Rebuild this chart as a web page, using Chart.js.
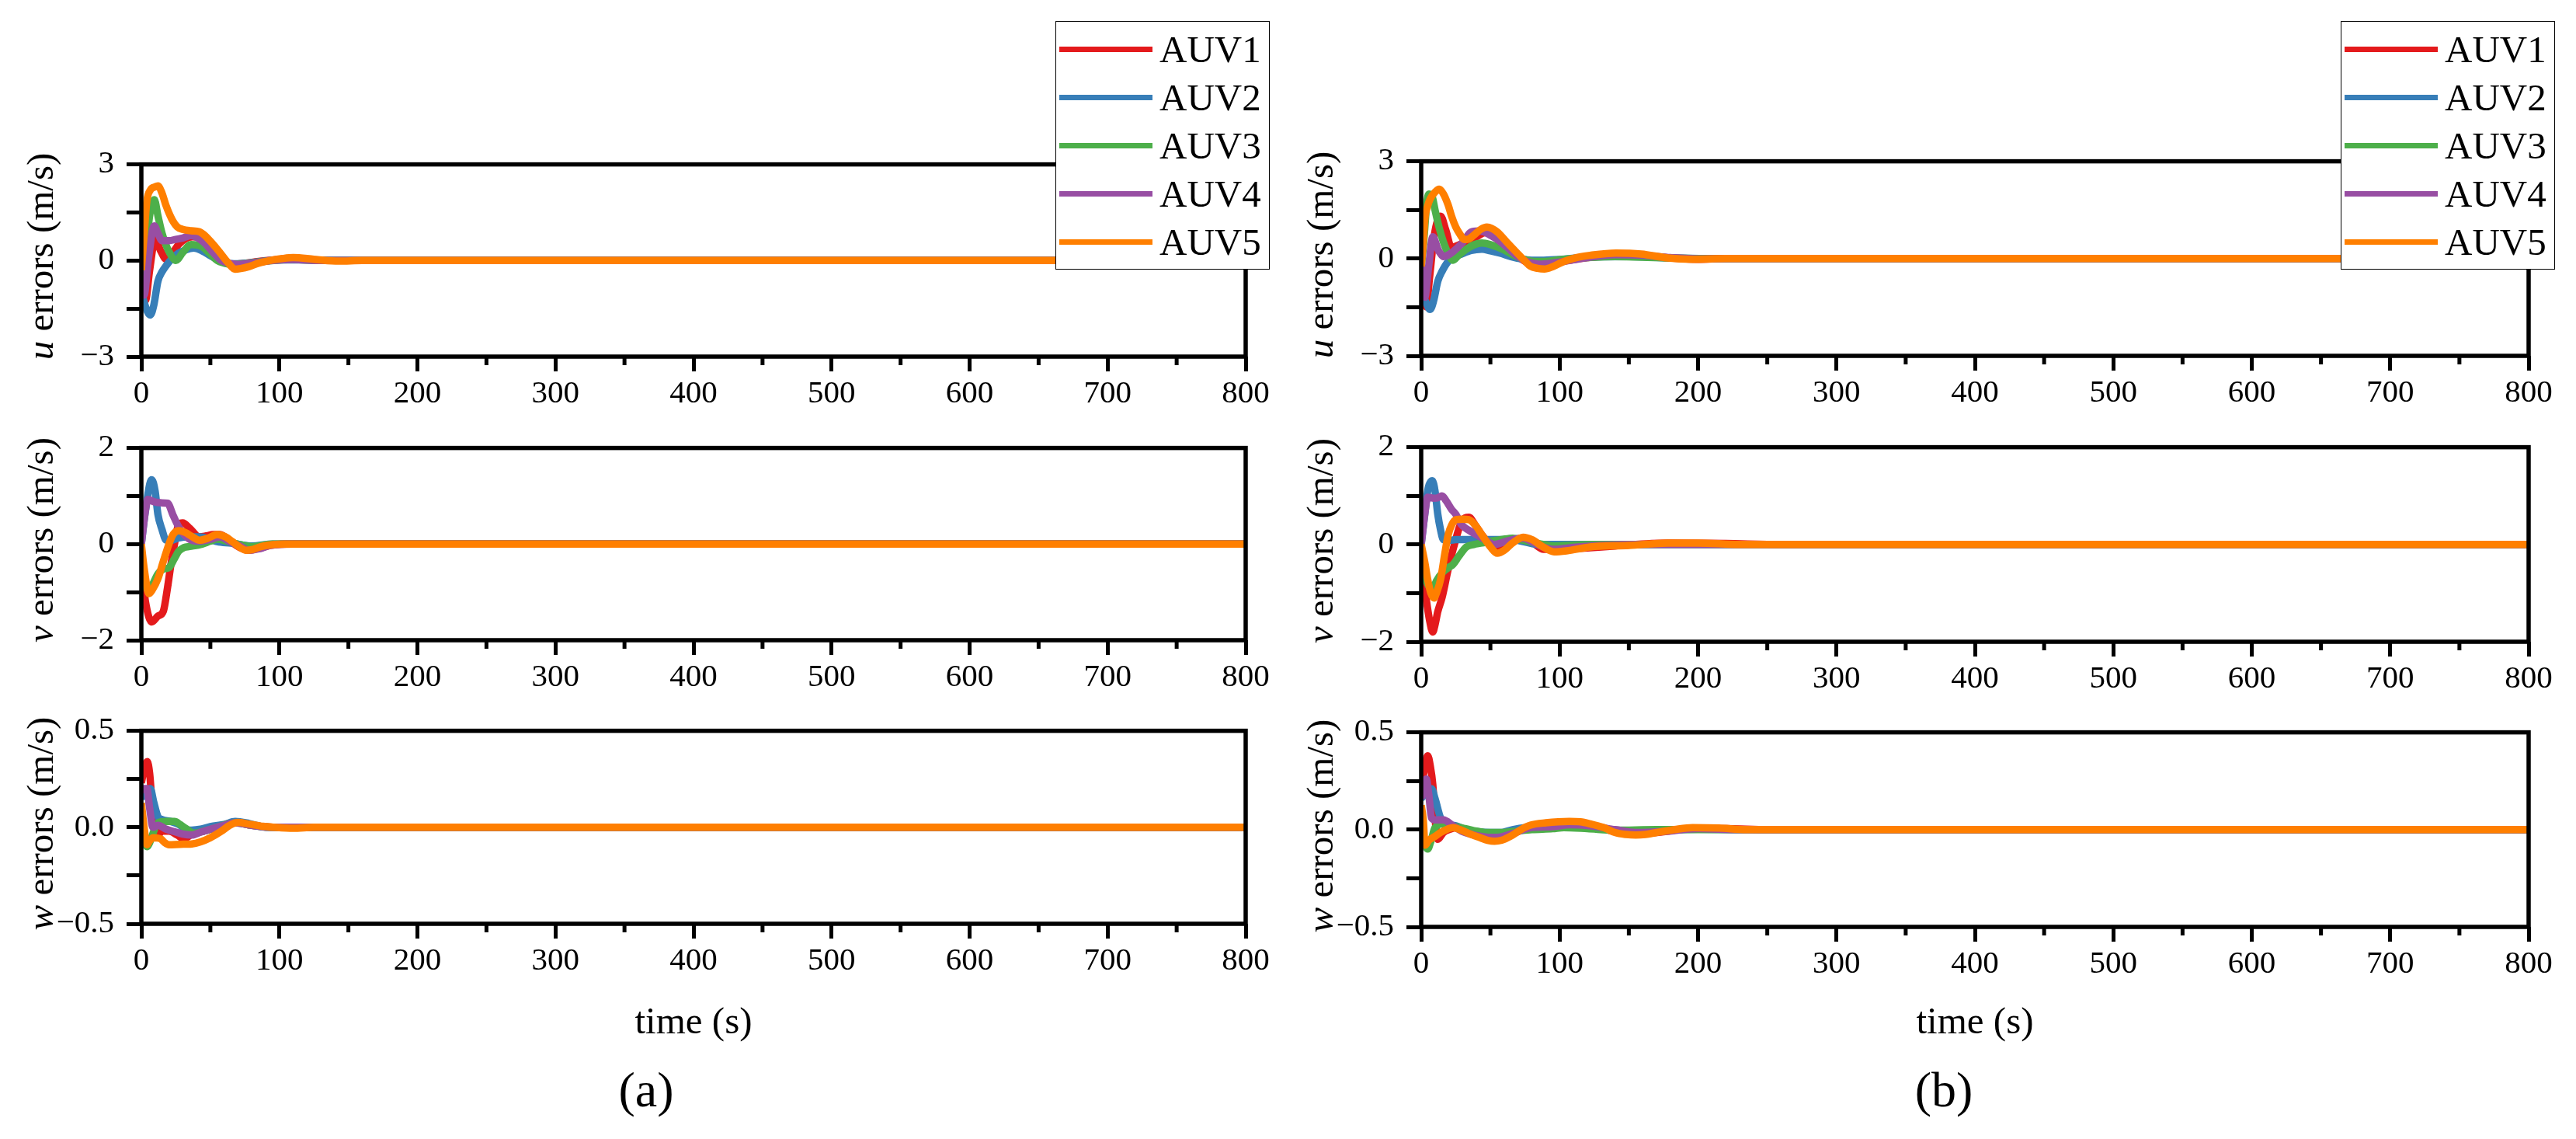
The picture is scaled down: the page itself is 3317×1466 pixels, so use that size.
<!DOCTYPE html>
<html lang="en">
<head>
<meta charset="UTF-8">
<title>AUV velocity errors</title>
<script src="https://cdn.jsdelivr.net/npm/chart.js"></script>
<style>
    body { margin: 0; background: #fff; }
    #fig {
        position: relative;
        width: 3317px;
        height: 1466px;
        background: #fff;
        overflow: hidden;
        font-family: 'Liberation Serif', 'Times New Roman', serif;
        color: #000;
    }
    #fig canvas { position: absolute; }
    .ytitle {
        position: absolute;
        width: 420px;
        height: 60px;
        line-height: 60px;
        text-align: center;
        font-size: 49px;
        white-space: nowrap;
        transform: rotate(-90deg);
    }
    .xtitle {
        position: absolute;
        width: 400px;
        text-align: center;
        font-size: 49px;
        line-height: 49px;
        white-space: nowrap;
    }
    .panel {
        position: absolute;
        width: 200px;
        text-align: center;
        font-size: 64px;
        line-height: 64px;
    }
    .legend {
        position: absolute;
        top: 27px;
        width: 276px;
        height: 320px;
        box-sizing: border-box;
        border: 1.5px solid #000;
        background: #fff;
        z-index: 5;
    }
    .legend .row { position: absolute; left: 0; width: 100%; height: 62px; }
    .legend .swatch { position: absolute; left: 4px; top: 27px; width: 120px; height: 7px; }
    .legend .name { position: absolute; left: 133px; top: 0; font-size: 49px; line-height: 62px; }
</style>
</head>
<body>
<div id="fig"></div>

<script>
    const names = ['AUV1', 'AUV2', 'AUV3', 'AUV4', 'AUV5'];
    const colors = ['#e41a1c', '#377eb8', '#4daf4a', '#984ea3', '#ff7f00'];
    const xTicks = [0, 100, 200, 300, 400, 500, 600, 700, 800];

    // (a) u errors, [time, value]
    const uA1 = [[0,-0.5],[3,-1.24],[6,-0.3],[10,0.66],[14,0.3],[18,0.04],[22,0.2],[27,0.5],[32,0.68],[37,0.74],[44,0.7],[50,0.45],[55,0.15],[60,-0.02],[65,-0.12],[72,-0.1],[85,-0.03],[100,0.03],[115,0.04],[135,0],[800,0]];
    const uA2 = [[0,-0.9],[2,-1.3],[6.5,-1.7],[9,-1.4],[12,-0.65],[15,-0.35],[18,-0.16],[22,0.05],[27,0.23],[32,0.33],[38,0.39],[44,0.3],[50,0.15],[55,0.03],[61,-0.08],[70,-0.1],[85,-0.04],[100,0.02],[120,0.02],[150,0],[800,0]];
    const uA3 = [[0,-0.6],[3,0.2],[6,1.4],[9.4,1.9],[12,1.4],[15,0.85],[18,0.47],[21,0.2],[25,0],[30,0.25],[36,0.5],[44,0.43],[50,0.2],[55,0],[60,-0.08],[65,-0.12],[75,-0.1],[90,-0.02],[110,0.03],[130,0],[800,0]];
    const uA4 = [[0,-0.62],[2,-1.08],[5,0],[9.4,1.08],[12,0.85],[15,0.62],[20,0.62],[25,0.66],[30,0.7],[36,0.78],[41,0.7],[46,0.54],[52,0.25],[58,0],[65,-0.1],[70,-0.12],[80,-0.08],[95,0],[110,0.03],[130,0],[800,0]];
    const uA5 = [[0,-0.3],[2,0.8],[4,1.86],[6.5,2.2],[10,2.3],[12,2.33],[15,2.1],[18,1.7],[22,1.3],[26,1.05],[30,0.97],[36,0.93],[42,0.9],[46,0.78],[50,0.6],[56,0.3],[63,-0.08],[68,-0.27],[72,-0.25],[78,-0.19],[85,-0.08],[93,0],[102,0.06],[110,0.09],[125,0.04],[143,-0.02],[160,0],[800,0]];

    // (a) v errors
    const vA1 = [[0,-0.5],[3,-1.2],[7.5,-1.62],[12,-1.5],[16,-1.39],[19,-0.9],[21.5,-0.41],[24,0],[27,0.41],[30,0.44],[35,0.33],[42,0.15],[47,0.17],[52,0.2],[57,0.2],[65,0.05],[72,-0.08],[78,-0.13],[85,-0.09],[95,-0.02],[110,0],[800,0]];
    const vA2 = [[0,0],[3,0.7],[7.5,1.34],[10,1.1],[12,0.62],[15,0.3],[18,0.08],[22,0.08],[27,0.13],[35,0.15],[42,0.15],[50,0.1],[55,0.05],[65,0.02],[80,-0.04],[95,0],[800,0]];
    const vA3 = [[0,-0.5],[3,-0.85],[5.6,-0.98],[8,-0.85],[12,-0.62],[16,-0.52],[20,-0.49],[24,-0.3],[27,-0.15],[31,-0.07],[35,-0.05],[44,0],[50,0.06],[55,0.1],[62,0.06],[70,0],[80,-0.05],[95,0],[800,0]];
    const vA4 = [[0,0],[2.5,0.6],[4.7,0.93],[9.4,0.88],[14,0.86],[19,0.85],[23,0.6],[27,0.36],[31,0.2],[36.5,0.08],[42,0.06],[50,0.1],[57,0.15],[64,0.05],[72,-0.05],[78,-0.13],[85,-0.1],[93,-0.03],[105,0],[800,0]];
    const vA5 = [[0,0],[2,-0.5],[5.6,-1.03],[8,-0.95],[12,-0.72],[16,-0.35],[20,0],[23,0.2],[27,0.28],[32,0.24],[37,0.15],[42,0.08],[48,0.12],[55,0.2],[61,0.15],[66,0.05],[71,-0.06],[76,-0.13],[81,-0.11],[87,-0.05],[95,-0.01],[104,0],[800,0]];

    // (a) w errors
    const wA1 = [[0,0.23],[2,0.3],[4.3,0.34],[6,0.28],[7.5,0.15],[9,0.04],[12,-0.04],[15,-0.02],[20,-0.02],[26,-0.04],[31,-0.06],[37.5,-0.03],[45,-0.02],[55,0],[68,0.025],[80,0.01],[95,0],[800,0]];
    const wA2 = [[0,0.15],[3,0.18],[6.5,0.2],[9,0.13],[12,0.055],[15,0.04],[21.5,0.03],[27,0.015],[32,-0.01],[36.5,-0.015],[43,-0.01],[50,0.004],[60,0.015],[68,0.03],[78,0.02],[90,0],[800,0]];
    const wA3 = [[0,0],[2,-0.06],[4,-0.1],[6,-0.08],[8,-0.04],[12,0.023],[18,0.03],[24,0.03],[28,0.015],[32,-0.005],[38,-0.03],[45,-0.02],[55,0],[68,0.023],[80,0.01],[95,0],[800,0]];
    const wA4 = [[0,0.19],[2,0.2],[4,0.2],[6,0.1],[8.4,0],[12,0.01],[18,-0.01],[25,-0.025],[30,-0.035],[36.5,-0.04],[43,-0.025],[50,-0.01],[60,0.01],[68,0.023],[80,0.01],[95,0],[800,0]];
    const wA5 = [[0,0.126],[2,0],[4,-0.09],[6,-0.07],[8.4,-0.054],[11,-0.055],[14,-0.06],[17,-0.08],[20,-0.09],[28,-0.088],[36.5,-0.086],[43,-0.075],[50,-0.054],[58,-0.02],[64,0.01],[70,0.025],[78,0.017],[88,0.005],[96,0],[110,-0.005],[125,0],[800,0]];

    // (b) u errors
    const uB1 = [[0,-0.5],[2,-1.2],[3.7,-1.49],[6,-0.6],[9.3,0.67],[12,1.2],[14,1.31],[17.7,0.89],[22,0.33],[26,0.4],[32.6,0.52],[40,0.67],[46,0.8],[50,0.78],[55,0.6],[62,0.35],[70,0.06],[78,-0.15],[86,-0.2],[100,-0.1],[120,0.03],[140,0.1],[160,0.08],[180,0.02],[200,-0.02],[220,0],[800,0]];
    const uB2 = [[0,-0.92],[3,-1.3],[6.5,-1.57],[9,-1.3],[12,-0.7],[15,-0.4],[19.5,-0.09],[24,0.05],[29,0.14],[36,0.25],[43.8,0.29],[50,0.24],[56.8,0.17],[65,0.06],[73.6,-0.02],[80,-0.05],[88.5,-0.05],[100,-0.03],[122,0.05],[150,0.06],[180,0.02],[210,0],[800,0]];
    const uB3 = [[0,-0.3],[2,0.6],[4,1.7],[5.6,1.99],[8,1.9],[10,1.5],[13,0.95],[16,0.52],[19,0.2],[23,-0.05],[27,0.1],[32.6,0.29],[38,0.42],[43.8,0.48],[50,0.43],[58.7,0.29],[66,0.12],[73.6,-0.02],[80,-0.08],[88,-0.09],[103,-0.02],[120,0.03],[140,0.06],[170,0.03],[200,0],[800,0]];
    const uB4 = [[0,-0.24],[1.5,-0.8],[2.8,-1.19],[4,-0.8],[5.6,-0.17],[8.4,0.67],[10,0.55],[12,0.29],[14,0.15],[16,0.06],[19,0.1],[23,0.21],[30,0.5],[36,0.82],[41,0.85],[45.6,0.82],[50,0.72],[55,0.59],[62,0.35],[70,0.06],[78,-0.12],[85,-0.17],[95,-0.14],[103,-0.09],[120,0.03],[140,0.12],[160,0.1],[180,0.03],[200,-0.01],[220,0],[800,0]];
    const uB5 = [[0,-0.24],[1.5,0.5],[2.8,1.27],[4.5,1.6],[6.5,1.84],[10,2.05],[13,2.14],[16,2.0],[19.5,1.65],[22,1.3],[25,0.97],[28,0.75],[31,0.59],[34,0.6],[38,0.72],[43,0.9],[47.5,0.97],[51,0.93],[55,0.82],[62,0.5],[70,0.14],[75,-0.08],[79,-0.24],[84,-0.3],[89,-0.32],[95,-0.25],[103,-0.09],[112,0.03],[122,0.1],[140.6,0.17],[159,0.14],[178,0.02],[196,-0.02],[220,0],[800,0]];

    // (b) v errors
    const vB1 = [[0,-0.41],[3,-1.0],[6,-1.55],[8.4,-1.8],[10,-1.65],[12,-1.38],[15,-1.1],[19.5,-0.51],[24,0],[29,0.46],[34.5,0.56],[39,0.4],[43.8,0.2],[50,0],[55,-0.1],[62,-0.02],[68,0.1],[73.6,0.13],[80,0.05],[88.5,-0.1],[100,-0.1],[120,-0.07],[140,-0.03],[178,0.03],[220,0.02],[260,0],[800,0]];
    const vB2 = [[0,0],[2.5,0.6],[5,1.15],[8,1.31],[10,1.1],[12,0.62],[14,0.3],[16,0.1],[20,0.08],[25,0.1],[35,0.1],[43.8,0.1],[55,0.1],[66,0.1],[75,0.05],[85,0],[800,0]];
    const vB3 = [[0,-0.41],[3,-0.7],[6,-0.88],[8.4,-0.92],[11,-0.75],[16,-0.56],[20,-0.47],[23,-0.41],[27,-0.25],[32.6,-0.05],[38,0],[43.8,0.03],[50,0.07],[58,0.1],[66,0.13],[75,0.08],[85,0.02],[96,-0.03],[110,-0.01],[130,0],[800,0]];
    const vB4 = [[0,0],[2.5,0.6],[4.7,0.97],[9.3,0.95],[12,0.96],[15,1.0],[18,0.9],[22,0.72],[25,0.62],[29,0.41],[34,0.3],[40,0.2],[46,0.1],[53,0],[60,0.05],[66,0.1],[73.6,0.13],[80,0.06],[88,-0.05],[96,-0.1],[110,-0.06],[130,-0.02],[160,0],[800,0]];
    const vB5 = [[0,0],[2.5,-0.35],[4.7,-0.72],[7,-1.0],[9.3,-1.1],[11,-1.0],[14,-0.72],[17,-0.2],[19.5,0.2],[22,0.4],[25,0.51],[30,0.52],[34.5,0.51],[39,0.4],[43.8,0.2],[50,-0.05],[55,-0.18],[60,-0.12],[66,0.03],[73.6,0.15],[80,0.1],[88,-0.05],[96,-0.15],[105,-0.13],[122,-0.05],[150,-0.02],[178,0.03],[200,0.03],[230,0],[800,0]];

    // (b) w errors
    const wB1 = [[0,0.2],[2.5,0.32],[4.7,0.38],[6.5,0.33],[8.4,0.23],[10,0.06],[12,-0.05],[16,-0.015],[20,0],[26,0.01],[35,-0.02],[45,-0.04],[53,-0.05],[60,-0.04],[70,-0.01],[80,0.02],[95,0.03],[107,0.035],[120,0.025],[140,-0.01],[155,-0.025],[170,-0.015],[196,0.005],[220,0.005],[250,0],[800,0]];
    const wB2 = [[0,0.16],[4,0.19],[7.5,0.21],[10,0.16],[14,0.06],[18,0.03],[25,0.02],[32,0],[40,-0.01],[50,-0.015],[57,-0.015],[66,0],[75,0.01],[90,0.015],[107,0.017],[125,0.01],[140,-0.003],[160,-0.005],[200,0.002],[230,0],[800,0]];
    const wB3 = [[0,0],[2.5,-0.07],[4.7,-0.1],[7,-0.06],[10,0.01],[16,0.03],[22,0.02],[29,0.01],[38,-0.005],[47.5,-0.015],[55,-0.015],[66,-0.01],[80,0],[95,0.005],[103,0.01],[120,0.005],[140,-0.003],[170,0],[800,0]];
    const wB4 = [[0,0.16],[2,0.22],[3.7,0.26],[5.5,0.18],[7.5,0.06],[10,0.05],[16,0.05],[23,0.02],[30,-0.01],[40,-0.03],[50,-0.04],[55,-0.04],[66,-0.02],[79,0.01],[95,0.015],[107,0.025],[122,0.02],[140,0],[155,-0.015],[175,-0.01],[200,0.005],[230,0],[800,0]];
    const wB5 = [[0,0.125],[1.5,0.05],[2.8,-0.08],[5.6,-0.054],[10,-0.035],[14,-0.015],[18,0],[23,0.01],[28,0],[34.5,-0.02],[42,-0.04],[48,-0.055],[53,-0.06],[58,-0.055],[66,-0.028],[72,0],[79,0.023],[90,0.035],[107,0.042],[115,0.04],[122,0.03],[132,0.01],[140,-0.015],[148,-0.025],[155,-0.028],[162,-0.025],[170,-0.015],[183,0],[196,0.01],[215,0.008],[235,0],[800,0]];

    // layout of the two panels (pixels)
    const panels = [
        { L: 182, R: 1604, yTitleX: 52, xTitleX: 893, tagX: 832, legendX: 1359, tag: '(a)',
          rows: [[201, 459], [566, 824], [930, 1189]],
          series: [[uA1, uA2, uA3, uA4, uA5], [vA1, vA2, vA3, vA4, vA5], [wA1, wA2, wA3, wA4, wA5]] },
        { L: 1830, R: 3256, yTitleX: 1700, xTitleX: 2543, tagX: 2503, legendX: 3014, tag: '(b)',
          rows: [[197, 458], [565, 826], [932, 1193]],
          series: [[uB1, uB2, uB3, uB4, uB5], [vB1, vB2, vB3, vB4, vB5], [wB1, wB2, wB3, wB4, wB5]] }
    ];
    const rowInfo = [
        { sym: 'u', lim: 3, digits: 0 },
        { sym: 'v', lim: 2, digits: 0 },
        { sym: 'w', lim: 0.5, digits: 1 }
    ];

    const Y_BOX = 130, X_BOX = 62, PAD_TOP = 30, PAD_RIGHT = 40;

    Chart.defaults.font.family = "'Liberation Serif', 'Times New Roman', serif";
    Chart.defaults.font.size = 41;
    Chart.defaults.color = '#000';

    // closed frame plus the short minor ticks on the time axis
    const frame = {
        id: 'frame',
        afterDraw(chart) {
            const { ctx, chartArea: a } = chart;
            const x = chart.scales.x;
            ctx.save();
            ctx.strokeStyle = '#000';
            ctx.lineWidth = 5;
            for (let t = 50; t < 800; t += 100) {
                const px = x.getPixelForValue(t);
                ctx.beginPath();
                ctx.moveTo(px, a.bottom);
                ctx.lineTo(px, a.bottom + 11);
                ctx.stroke();
            }
            ctx.lineWidth = 5.5;
            ctx.strokeRect(a.left, a.top, a.right - a.left, a.bottom - a.top);
            ctx.restore();
        }
    };

    function tickText(v, info) {
        const a = Math.abs(v);
        if (a > 1e-9 && Math.abs(a - info.lim) > 1e-9) return '';
        const s = a.toFixed(info.digits);
        return v < -1e-9 ? '\u2212' + s : s;
    }

    const fig = document.getElementById('fig');

    panels.forEach(p => {
        p.rows.forEach(([T, B], r) => {
            const info = rowInfo[r];
            const cv = document.createElement('canvas');
            const left = p.L - Y_BOX, top = T - PAD_TOP;
            const w = p.R + PAD_RIGHT - left, h = B + X_BOX - top;
            cv.width = w; cv.height = h;
            cv.style.left = left + 'px'; cv.style.top = top + 'px';
            cv.style.width = w + 'px'; cv.style.height = h + 'px';
            fig.appendChild(cv);

            new Chart(cv, {
                type: 'line',
                data: {
                    datasets: p.series[r].map((pts, i) => ({
                        label: names[i],
                        data: pts.map(q => ({ x: q[0], y: q[1] })),
                        borderColor: colors[i],
                        borderWidth: 9.5,
                        pointRadius: 0,
                        fill: false,
                        cubicInterpolationMode: 'monotone',
                        order: 5 - i
                    }))
                },
                options: {
                    responsive: false,
                    animation: false,
                    events: [],
                    devicePixelRatio: 1,
                    layout: { padding: { top: PAD_TOP, right: PAD_RIGHT, left: 0, bottom: 0 } },
                    plugins: { legend: { display: false }, tooltip: { enabled: false } },
                    scales: {
                        x: {
                            type: 'linear', min: 0, max: 800,
                            afterFit: s => { s.height = X_BOX; },
                            afterBuildTicks: s => { s.ticks = xTicks.map(v => ({ value: v })); },
                            ticks: { autoSkip: false, maxRotation: 0, padding: 5, callback: v => String(v) },
                            grid: { drawOnChartArea: false, tickLength: 19, tickWidth: 5, tickColor: '#000' },
                            border: { display: false }
                        },
                        y: {
                            type: 'linear', min: -info.lim, max: info.lim,
                            afterFit: s => { s.width = Y_BOX; },
                            ticks: { stepSize: info.lim / 2, autoSkip: false, padding: 16, callback: v => tickText(v, info) },
                            grid: { drawOnChartArea: false, tickLength: 19, tickWidth: 5, tickColor: '#000' },
                            border: { display: false }
                        }
                    }
                },
                plugins: [frame]
            });

            const yt = document.createElement('div');
            yt.className = 'ytitle';
            yt.innerHTML = '<i>' + info.sym + '</i> errors (m/s)';
            yt.style.left = (p.yTitleX - 210) + 'px';
            yt.style.top = ((T + B) / 2 - 30) + 'px';
            fig.appendChild(yt);
        });

        const xt = document.createElement('div');
        xt.className = 'xtitle';
        xt.textContent = 'time (s)';
        xt.style.left = (p.xTitleX - 200) + 'px';
        xt.style.top = '1289px';
        fig.appendChild(xt);

        const tag = document.createElement('div');
        tag.className = 'panel';
        tag.textContent = p.tag;
        tag.style.left = (p.tagX - 100) + 'px';
        tag.style.top = '1371px';
        fig.appendChild(tag);

        const lg = document.createElement('div');
        lg.className = 'legend';
        lg.style.left = p.legendX + 'px';
        lg.innerHTML = names.map((n, i) =>
            `<div class="row" style="top:${5 + i * 62}px">
                <span class="swatch" style="background:${colors[i]}"></span>
                <span class="name">${n}</span>
            </div>`).join('');
        fig.appendChild(lg);
    });
</script>
</body>
</html>
